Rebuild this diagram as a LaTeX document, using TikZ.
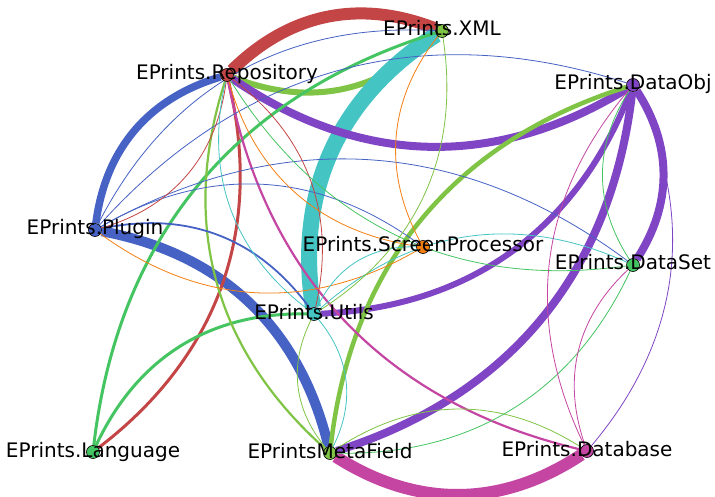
\documentclass[tikz,border=0pt]{standalone}
\usepackage{fontspec}
\setmainfont{DejaVu Sans}
\usetikzlibrary{arrows.meta, positioning, calc}
\definecolor{Brick}{HTML}{C44545}
\definecolor{Azure}{HTML}{4562C4}
\definecolor{Violet}{HTML}{8045C4}
\definecolor{Teal}{HTML}{45C4C4}
\definecolor{Leaf}{HTML}{45C462}
\definecolor{Lime}{HTML}{80C445}
\definecolor{Tangerine}{HTML}{F47F12}
\definecolor{Orchid}{HTML}{C445A2}
\pgfdeclarelayer{edges}
\pgfsetlayers{edges,main}

\begin{document}
\begin{tikzpicture}[
  x=1pt, y=1pt,
  font=\fontsize{20}{24}\selectfont,
  every label/.style={
    text height=15pt,
    text depth=5pt,
    inner sep=0pt
  },
  pkg/.style={
    circle,
    draw=black,
    line width=0.6pt,
    minimum size=13pt,
    inner sep=0pt
  },
  link/.style={
    bend left=33
  },
  minor/.style={
    bend left=33,
    line width=0.8pt
  }
]

\useasboundingbox (0,0) rectangle (715,496);

% packages
\node[pkg, fill=Brick, label=center:{EPrints.Repository}] (rep) at (227,421) {};
\node[pkg, fill=Lime, label=center:{EPrints.XML}] (xml) at (442,465) {};
\node[pkg, fill=Violet, label=center:{EPrints.DataObj}] (dobj) at (633,411) {};
\node[pkg, fill=Azure, label=center:{EPrints.Plugin}] (plug) at (95,266) {};
\node[pkg, fill=Tangerine, label=center:{EPrints.ScreenProcessor}] (sp) at (423,249) {};
\node[pkg, fill=Leaf, label=center:{EPrints.DataSet}] (dset) at (633,231) {};
\node[pkg, fill=Teal, label=center:{EPrints.Utils}] (utils) at (314,182) {};
\node[pkg, fill=Leaf, label=center:{EPrints.Language}] (lang) at (93,44) {};
\node[pkg, fill=Lime, label=center:{EPrintsMetaField}] (mf) at (330,43) {};
\node[pkg, fill=Orchid, label=center:{EPrints.Database}] (db) at (587,45) {};

\begin{pgfonlayer}{edges}
\fill[white] (0,0) rectangle (715,496);
% heavy dependencies
\draw[link, draw=Brick, line width=12pt] (rep) to (xml);
\draw[link, draw=Lime, line width=6pt] (xml) to (rep);
\draw[link, draw=Teal, line width=16pt] (utils) to (xml);
\draw[link, draw=Violet, line width=8pt] (dobj) to (rep);
\draw[link, draw=Azure, line width=7.5pt] (plug) to (rep);
\draw[link, draw=Azure, line width=10pt] (plug) to (mf);
\draw[link, draw=Violet, line width=8pt] (dobj) to (dset);
\draw[link, draw=Violet, line width=8pt] (dobj) to (mf);
\draw[link, draw=Violet, line width=6pt] (dobj) to (utils);
\draw[link, draw=Orchid, line width=12pt] (db) to (mf);
\draw[link, draw=Lime, line width=4.5pt] (mf) to (dobj);
\draw[link, draw=Brick, line width=3pt] (rep) to (lang);
\draw[link, draw=Leaf, line width=3pt] (lang) to (xml);
\draw[link, draw=Leaf, line width=3pt] (lang) to (utils);
\draw[link, draw=Lime, line width=2.2pt] (mf) to (rep);
\draw[link, draw=Orchid, line width=2.2pt] (db) to (rep);
\draw[link, draw=Azure, line width=1.8pt] (plug) to (utils);

% light dependencies
\draw[minor, draw=Azure] (plug) to (xml);
\draw[minor, draw=Azure] (plug) to (dobj);
\draw[minor, draw=Azure] (plug) to (dset);
\draw[minor, draw=Azure] (plug) to (sp);
\draw[minor, draw=Brick] (rep) to (plug);
\draw[minor, draw=Brick] (rep) to (utils);
\draw[minor, draw=Tangerine] (sp) to (rep);
\draw[minor, draw=Tangerine] (sp) to (plug);
\draw[minor, draw=Tangerine] (sp) to (xml);
\draw[minor, draw=Teal] (utils) to (rep);
\draw[minor, draw=Teal] (utils) to (sp);
\draw[minor, draw=Teal] (utils) to (dset);
\draw[minor, draw=Teal] (utils) to (mf);
\draw[minor, draw=Lime] (xml) to (utils);
\draw[minor, draw=Lime] (mf) to (utils);
\draw[minor, draw=Lime] (mf) to (db);
\draw[minor, draw=Leaf] (dset) to (mf);
\draw[minor, draw=Leaf] (dset) to (rep);
\draw[minor, draw=Leaf] (dset) to (dobj);
\draw[minor, draw=Orchid] (db) to (dobj);
\draw[minor, draw=Orchid] (db) to (dset);
\draw[minor, draw=Violet] (dobj) to (db);
\end{pgfonlayer}

\end{tikzpicture}
\end{document}
